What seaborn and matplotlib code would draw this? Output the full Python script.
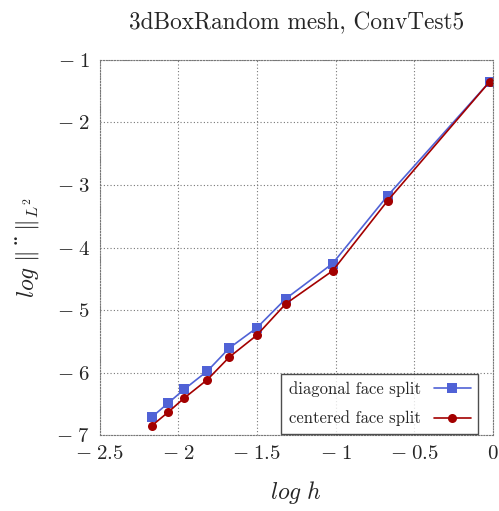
import pandas as pd
import matplotlib.pyplot as plt
import seaborn as sns
from matplotlib.ticker import FuncFormatter

# log h values and log error for the two splitting strategies
log_h = [-2.168, -2.066, -1.962, -1.814, -1.676, -1.500, -1.316, -1.019, -0.669, -0.022]
err_diagonal = [-6.714, -6.494, -6.269, -5.975, -5.610, -5.284, -4.818, -4.256, -3.170, -1.349]
err_centered = [-6.852, -6.639, -6.409, -6.113, -5.755, -5.402, -4.899, -4.373, -3.250, -1.349]
series_names = ['diagonal face split', 'centered face split']

df = pd.concat([
    pd.DataFrame({'log h': log_h, 'err': err_diagonal, 'split': series_names[0]}),
    pd.DataFrame({'log h': log_h, 'err': err_centered, 'split': series_names[1]}),
])

sns.set_style('white')
plt.rcParams['font.family'] = ['cmr10', 'DejaVu Serif']
plt.rcParams['mathtext.fontset'] = 'cm'
plt.rcParams['axes.formatter.use_mathtext'] = True

fig = plt.figure(figsize=(4.99, 5.11), dpi=100)
ax = fig.add_axes([0.1994, 0.1487, 0.7886, 0.7339])

sns.lineplot(
    data=df, x='log h', y='err', hue='split', style='split',
    palette={series_names[0]: '#5062d6', series_names[1]: '#a30000'},
    markers={series_names[0]: 's', series_names[1]: 'o'},
    dashes=False, markersize=6.5, markeredgewidth=0, linewidth=1.2,
    sort=False, ax=ax,
)


def tick_fmt(v, pos):
    # LaTeX-like minus with a gap before the number
    if v < 0:
        return r'$-\;%g$' % abs(v)
    return r'$%g$' % v


ax.set_xlim(-2.5, 0)
ax.set_ylim(-7, -1)
ax.set_xticks([-2.5, -2, -1.5, -1, -0.5, 0])
ax.set_yticks([-7, -6, -5, -4, -3, -2, -1])
ax.xaxis.set_major_formatter(FuncFormatter(tick_fmt))
ax.yaxis.set_major_formatter(FuncFormatter(tick_fmt))
ax.grid(True, linestyle=(0, (1, 2)), color='#777777', linewidth=0.8)
for s in ax.spines.values():
    s.set_linestyle((0, (1, 1.5)))
    s.set_color('#777777')
    s.set_linewidth(0.8)
ax.tick_params(direction='in', length=3, width=0.6, color='#777777', labelsize=15, pad=7)

ax.set_title('3dBoxRandom mesh, ConvTest5', fontsize=16.8, pad=22)
ax.set_xlabel(r'$log\ h$', fontsize=17, labelpad=12)
ax.set_ylabel(r'$log\ \Vert\,$' + '\u00a8' + r'$\,\Vert_{L^2}$', fontsize=17, labelpad=11,
              family=['DejaVu Serif'])

leg = ax.legend(loc='lower right', bbox_to_anchor=(0.962, 0.003), markerfirst=False,
                fontsize=12, frameon=True, fancybox=False, edgecolor='#222222',
                handlelength=2.2, borderpad=0.45, labelspacing=0.8, borderaxespad=0)
leg.get_frame().set_linewidth(1.0)

fig.savefig('out.png', dpi=100)
